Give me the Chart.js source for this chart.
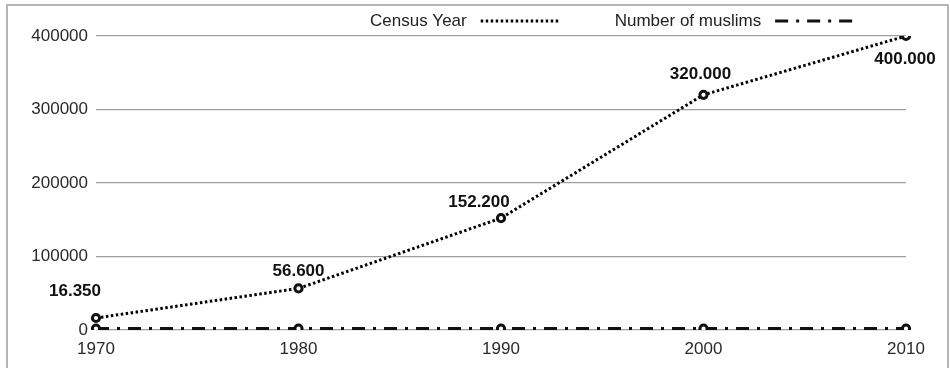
<!DOCTYPE html>
<html>
<head>
<meta charset="utf-8">
<script src="https://cdn.jsdelivr.net/npm/chart.js@4"></script>
<style>
  html, body { margin: 0; padding: 0; background: #fff; }
  #wrap { width: 950px; height: 368px; position: relative; }
</style>
</head>
<body>
<div id="wrap"><canvas id="c" width="950" height="368"></canvas></div>
<script>
// Census years and series values
const years = ['1970', '1980', '1990', '2000', '2010'];
const censusYear = [16350, 56600, 152200, 320000, 400000];
const numberOfMuslims = [1970, 1980, 1990, 2000, 2010];
const yTicks = [0, 100000, 200000, 300000, 400000];

const FONT = '"Liberation Sans", Arial, sans-serif';

// thousands separated with a dot, e.g. 16350 -> 16.350
function fmt(v) {
  return String(v).replace(/\B(?=(\d{3})+(?!\d))/g, '.');
}

// Outer frame around the whole chart
const framePlugin = {
  id: 'frame',
  beforeDraw(chart) {
    const ctx = chart.ctx;
    ctx.save();
    ctx.strokeStyle = '#b4b4b4';
    ctx.lineWidth = 2;
    ctx.strokeRect(7, 5, 941, 368);
    ctx.restore();
  }
};

// Legend: label text followed by a sample of the line style
const legendPlugin = {
  id: 'inlineLegend',
  afterDraw(chart) {
    const ctx = chart.ctx;
    ctx.save();
    ctx.font = '17px ' + FONT;
    ctx.textBaseline = 'middle';
    ctx.textAlign = 'left';
    let x = 370;
    const y = 21;
    chart.data.datasets.forEach((ds) => {
      ctx.fillStyle = '#222';
      ctx.fillText(ds.label, x, y);
      x += ctx.measureText(ds.label).width + 14;
      ctx.beginPath();
      ctx.setLineDash(ds.borderDash);
      ctx.lineWidth = ds.borderWidth;
      ctx.strokeStyle = ds.borderColor;
      ctx.moveTo(x, y);
      ctx.lineTo(x + 78, y);
      ctx.stroke();
      ctx.setLineDash([]);
      x += 78 + 56;
    });
    ctx.restore();
  }
};

// Value labels for the growth series
const labelOffsets = [[-21, -27], [0, -17], [-22, -16], [-3, -20], [-1, 23]];
const valueLabelPlugin = {
  id: 'valueLabels',
  afterDatasetsDraw(chart) {
    const ctx = chart.ctx;
    const meta = chart.getDatasetMeta(0);
    const data = chart.data.datasets[0].data;
    ctx.save();
    ctx.font = 'bold 17px ' + FONT;
    ctx.fillStyle = '#111';
    ctx.textAlign = 'center';
    ctx.textBaseline = 'middle';
    meta.data.forEach((pt, i) => {
      const off = labelOffsets[i] || [0, -18];
      ctx.fillText(fmt(data[i]), pt.x + off[0], pt.y + off[1]);
    });
    ctx.restore();
  }
};

new Chart(document.getElementById('c'), {
  type: 'line',
  data: {
    labels: years,
    datasets: [
      {
        label: 'Census Year',
        data: censusYear,
        borderColor: '#000',
        borderWidth: 3,
        borderDash: [2.5, 2.5],
        borderCapStyle: 'butt',
        tension: 0,
        pointRadius: 3.6,
        pointBorderWidth: 3,
        pointBackgroundColor: '#fff',
        pointBorderColor: '#111'
      },
      {
        label: 'Number of muslims',
        data: numberOfMuslims,
        borderColor: '#111',
        borderWidth: 3,
        borderDash: [13, 8, 3, 8],
        borderCapStyle: 'butt',
        tension: 0,
        pointRadius: 3.6,
        pointBorderWidth: 3,
        pointBackgroundColor: '#fff',
        pointBorderColor: '#111'
      }
    ]
  },
  options: {
    responsive: false,
    animation: false,
    layout: { padding: { left: 10, right: 44, top: 36, bottom: 0 } },
    plugins: {
      legend: { display: false },
      tooltip: { enabled: false }
    },
    scales: {
      x: {
        offset: false,
        grid: { display: false, drawTicks: false },
        border: { display: false },
        ticks: { color: '#2a2a2a', font: { family: FONT, size: 17 }, padding: 9, maxRotation: 0 },
        afterFit(scale) { scale.height = 38; }
      },
      y: {
        min: 0,
        max: 400000,
        afterBuildTicks(scale) { scale.ticks = yTicks.map(v => ({ value: v })); },
        grid: { color: '#a0a0a0', lineWidth: 1.3, drawTicks: false },
        border: { display: false },
        ticks: {
          color: '#2a2a2a',
          font: { family: FONT, size: 17 },
          padding: 8,
          callback: (v) => String(v)
        },
        afterFit(scale) { scale.width = 86; }
      }
    }
  },
  plugins: [framePlugin, legendPlugin, valueLabelPlugin]
});
</script>
</body>
</html>
